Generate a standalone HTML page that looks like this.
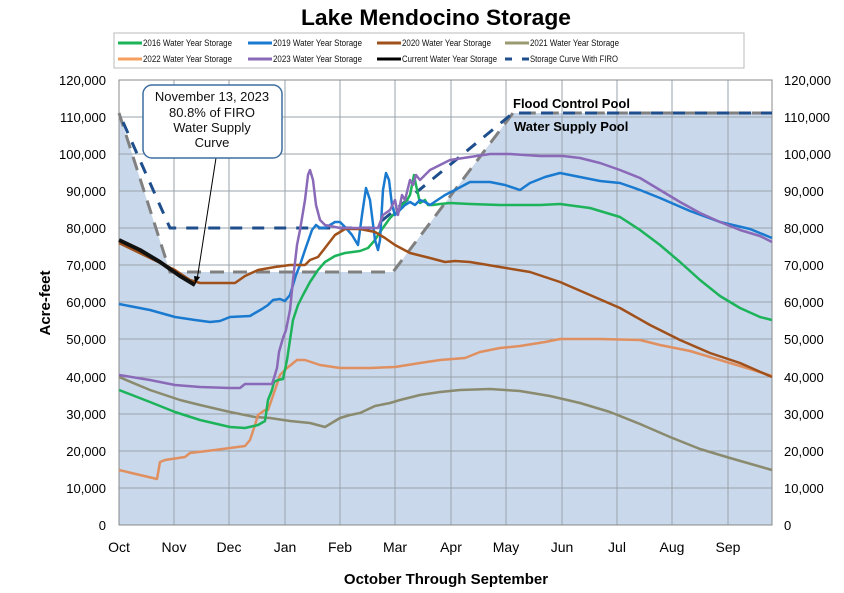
<!DOCTYPE html>
<html><head><meta charset="utf-8"><style>
body{margin:0;background:#fff;}
svg{display:block;font-family:"Liberation Sans",Arial,sans-serif;}
</style></head><body>
<svg width="844" height="593" viewBox="0 0 844 593">
<text x="436" y="25" text-anchor="middle" font-size="22" font-weight="bold" textLength="270" lengthAdjust="spacingAndGlyphs">Lake Mendocino Storage</text>
<rect x="114" y="33" width="630" height="35" fill="#fff" stroke="#bbb"/>
<g font-size="9" fill="#111">
<line x1="118" y1="43" x2="142" y2="43" stroke="#1db35a" stroke-width="3"/><text x="143" y="46" textLength="89" lengthAdjust="spacingAndGlyphs">2016 Water Year Storage</text>
<line x1="248" y1="43" x2="272" y2="43" stroke="#1a7ad0" stroke-width="3"/><text x="273" y="46" textLength="89" lengthAdjust="spacingAndGlyphs">2019 Water Year Storage</text>
<line x1="377" y1="43" x2="401" y2="43" stroke="#a0501a" stroke-width="3"/><text x="402" y="46" textLength="89" lengthAdjust="spacingAndGlyphs">2020 Water Year Storage</text>
<line x1="505" y1="43" x2="529" y2="43" stroke="#9a9a70" stroke-width="3"/><text x="530" y="46" textLength="89" lengthAdjust="spacingAndGlyphs">2021 Water Year Storage</text>
<line x1="118" y1="59" x2="142" y2="59" stroke="#f5a060" stroke-width="3"/><text x="143" y="62" textLength="89" lengthAdjust="spacingAndGlyphs">2022 Water Year Storage</text>
<line x1="248" y1="59" x2="272" y2="59" stroke="#8a6ab8" stroke-width="3"/><text x="273" y="62" textLength="89" lengthAdjust="spacingAndGlyphs">2023 Water Year Storage</text>
<line x1="377" y1="59" x2="401" y2="59" stroke="#000" stroke-width="3"/><text x="402" y="62" textLength="95" lengthAdjust="spacingAndGlyphs">Current Water Year Storage</text>
<line x1="505" y1="59" x2="529" y2="59" stroke="#1f4e8c" stroke-width="3" stroke-dasharray="7,10"/><text x="530" y="62" textLength="88" lengthAdjust="spacingAndGlyphs">Storage Curve With FIRO</text>
</g>
<polygon points="119,113 170,272 393,272 513,113 772,113 772,525 119,525" fill="#c9d8ea"/>
<g stroke="#9aa3ad" stroke-width="1">
<line x1="119" y1="80" x2="772" y2="80"/><line x1="119" y1="117" x2="772" y2="117"/><line x1="119" y1="154" x2="772" y2="154"/><line x1="119" y1="191" x2="772" y2="191"/><line x1="119" y1="228" x2="772" y2="228"/><line x1="119" y1="265" x2="772" y2="265"/><line x1="119" y1="302" x2="772" y2="302"/><line x1="119" y1="339" x2="772" y2="339"/><line x1="119" y1="377" x2="772" y2="377"/><line x1="119" y1="414" x2="772" y2="414"/><line x1="119" y1="451" x2="772" y2="451"/><line x1="119" y1="488" x2="772" y2="488"/>
<line x1="174" y1="80" x2="174" y2="525"/><line x1="229" y1="80" x2="229" y2="525"/><line x1="285" y1="80" x2="285" y2="525"/><line x1="340" y1="80" x2="340" y2="525"/><line x1="395" y1="80" x2="395" y2="525"/><line x1="451" y1="80" x2="451" y2="525"/><line x1="506" y1="80" x2="506" y2="525"/><line x1="562" y1="80" x2="562" y2="525"/><line x1="617" y1="80" x2="617" y2="525"/><line x1="672" y1="80" x2="672" y2="525"/><line x1="728" y1="80" x2="728" y2="525"/>
</g>
<rect x="119" y="80" width="653" height="445" fill="none" stroke="#888"/>
<polyline points="119,113 170,272 393,272 513,113 772,113" fill="none" stroke="#808080" stroke-width="3" stroke-dasharray="14,9"/>
<polyline points="119,113 170,228 373,228 513,113 772,113" fill="none" stroke="#1f4e8c" stroke-width="3" stroke-dasharray="12,10" stroke-dashoffset="12"/>
<g fill="none" stroke-width="2.5" stroke-linejoin="round">
<polyline stroke="#8a8a6e" points="119,377 150,390 180,400 200,405 230,412 255,417 270,418 290,421 310,423 325,427 330,424 340,418 350,415 360,413 375,406 390,403 400,400 420,395 440,392 460,390 490,389 520,391 550,396 580,403 610,412 640,424 670,437 700,449 730,458 772,470"/>
<polyline stroke="#e09060" points="119,470 140,475 157,479 160,462 165,460 185,457 190,453 215,450 245,446 250,440 255,425 258,415 265,410 268,410 275,390 280,375 287,368 297,360 305,360 320,365 340,368 370,368 395,367 420,363 440,360 465,358 480,352 500,348 520,346 545,342 560,339 600,339 640,340 660,345 690,351 720,360 750,369 772,376"/>
<polyline stroke="#1db35a" points="119,390 150,402 175,412 200,420 230,427 245,428 258,425 265,421 268,400 272,390 274,382 278,380 283,379 287,360 290,340 293,320 298,305 303,295 310,282 318,270 325,262 335,256 345,253 360,251 368,248 375,240 380,232 385,225 390,218 395,213 398,212 402,205 407,200 410,195 414,175 416,185 420,203 425,200 428,205 433,205 440,204 450,203 470,204 500,205 540,205 560,204 590,208 620,217 640,230 660,245 680,262 700,280 720,296 740,308 760,317 772,320"/>
<polyline stroke="#1a7ad0" points="119,304 150,310 175,317 195,320 210,322 220,321 230,317 250,316 255,313 262,309 268,305 273,300 280,299 285,301 290,295 293,285 296,275 300,265 305,250 312,230 316,225 320,228 325,228 330,225 335,222 340,222 346,228 352,235 358,245 362,215 366,188 370,200 375,240 378,250 380,240 383,190 386,173 389,180 392,205 395,215 405,205 410,202 415,205 420,200 425,202 430,205 445,195 455,190 470,182 490,182 505,185 520,190 530,183 545,177 560,173 575,176 600,181 620,183 640,190 660,198 690,211 720,222 750,229 772,238"/>
<polyline stroke="#a0501a" points="119,243 150,258 175,270 190,280 200,283 215,283 235,283 245,276 258,270 275,267 290,265 305,265 310,260 318,257 325,248 335,235 345,229 360,229 375,232 385,238 395,245 410,253 430,258 445,262 455,261 470,262 500,267 530,272 560,282 590,295 620,308 650,325 680,340 710,353 740,363 772,377"/>
<polyline stroke="#8a6ab8" points="119,375 150,380 175,385 200,387 230,388 240,388 245,384 260,384 272,384 274,378 277,368 279,352 283,338 286,330 290,310 293,280 297,245 300,230 305,200 308,175 310,170 313,180 316,205 320,220 325,225 340,228 360,228 378,228 383,215 390,210 395,200 398,215 402,195 405,200 410,180 413,185 416,175 420,180 425,175 430,170 440,165 450,160 470,157 490,154 510,154 540,156 563,156 580,158 600,163 620,170 640,178 660,190 680,202 700,213 720,222 740,230 760,236 772,242"/>
<polyline stroke="#111" stroke-width="4" points="119,240 140,250 160,262 180,276 195,285"/>
</g>
<line x1="216" y1="158" x2="197" y2="280" stroke="#000" stroke-width="1"/>
<polygon points="195,284 194,276 200,277" fill="#000"/>
<rect x="143" y="85" width="139" height="73" rx="9" fill="#fff" stroke="#3d6fa0" stroke-width="1.5"/>
<g font-size="13" text-anchor="middle" fill="#111">
<text x="212" y="101">November 13, 2023</text><text x="212" y="117">80.8% of FIRO</text><text x="212" y="132">Water Supply</text><text x="212" y="147">Curve</text>
</g>
<g font-size="13" font-weight="bold"><text x="513" y="108">Flood Control Pool</text><text x="514" y="131">Water Supply Pool</text></g>
<g font-size="13" text-anchor="end">
<text x="106" y="85">120,000</text><text x="106" y="122">110,000</text><text x="106" y="159">100,000</text><text x="106" y="196">90,000</text><text x="106" y="233">80,000</text><text x="106" y="270">70,000</text><text x="106" y="307">60,000</text><text x="106" y="344">50,000</text><text x="106" y="382">40,000</text><text x="106" y="419">30,000</text><text x="106" y="456">20,000</text><text x="106" y="493">10,000</text><text x="106" y="530">0</text>
</g>
<g font-size="13">
<text x="784" y="85">120,000</text><text x="784" y="122">110,000</text><text x="784" y="159">100,000</text><text x="784" y="196">90,000</text><text x="784" y="233">80,000</text><text x="784" y="270">70,000</text><text x="784" y="307">60,000</text><text x="784" y="344">50,000</text><text x="784" y="382">40,000</text><text x="784" y="419">30,000</text><text x="784" y="456">20,000</text><text x="784" y="493">10,000</text><text x="784" y="530">0</text>
</g>
<g font-size="14" text-anchor="middle">
<text x="119" y="552">Oct</text><text x="174" y="552">Nov</text><text x="229" y="552">Dec</text><text x="285" y="552">Jan</text><text x="340" y="552">Feb</text><text x="395" y="552">Mar</text><text x="451" y="552">Apr</text><text x="506" y="552">May</text><text x="562" y="552">Jun</text><text x="617" y="552">Jul</text><text x="672" y="552">Aug</text><text x="728" y="552">Sep</text>
</g>
<text x="446" y="584" text-anchor="middle" font-size="15" font-weight="bold">October Through September</text>
<text transform="translate(50,303) rotate(-90)" text-anchor="middle" font-size="15" font-weight="bold">Acre-feet</text>
</svg>
</body></html>
